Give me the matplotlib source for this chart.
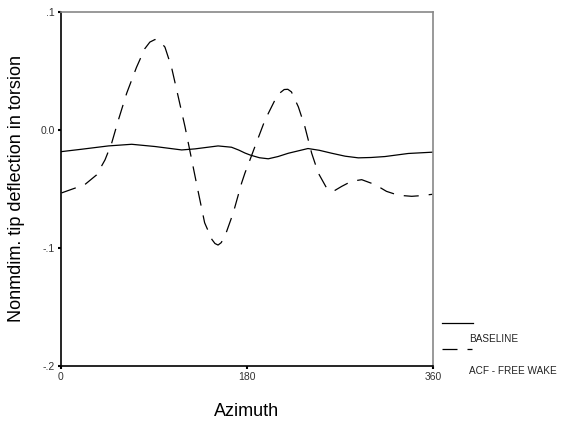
import numpy as np
import matplotlib
matplotlib.use("Agg")
import matplotlib.pyplot as plt
from matplotlib.lines import Line2D

plt.rcParams['font.family'] = ['Liberation Sans', 'DejaVu Sans']

# BASELINE (solid)
base_az = [0.6, 20, 45.8, 68.4, 91, 116.8, 129.7, 152, 165, 172, 178, 183, 192, 200.6,
           210, 220, 239, 250, 262, 275, 287.7, 300, 313.5, 336, 359.4]
base_val = [-0.0183, -0.0163, -0.0135, -0.0121, -0.0140, -0.0169, -0.0160, -0.0135,
            -0.0146, -0.0170, -0.0195, -0.0212, -0.0235, -0.0244, -0.0225, -0.0197,
            -0.0157, -0.0172, -0.0197, -0.0222, -0.0236, -0.0233, -0.0225, -0.0199,
            -0.0188]

# ACF - FREE WAKE (dashed)
acf_az = [0.6, 23, 34.5, 42.6, 49, 55.5, 63.5, 73, 81, 86, 91, 96, 100.6, 107, 113.5,
          120, 126.5, 133, 139, 146, 149, 152, 155, 158.7, 166.7, 174.8, 178, 183, 187.7,
          197.4, 207, 212, 216, 219.5, 223, 229.7, 236, 242.6, 249, 257, 263.5, 271.6,
          281, 291, 304, 315, 326.5, 339.4, 349, 359.4]
acf_val = [-0.0533, -0.0463, -0.0380, -0.0253, -0.0112, 0.0084, 0.0310, 0.0530, 0.0688,
           0.0745, 0.0767, 0.0750, 0.0702, 0.0530, 0.0280, 0.0028, -0.0253, -0.0533,
           -0.0786, -0.0927, -0.0962, -0.0975, -0.0955, -0.0899, -0.0702, -0.0449,
           -0.0365, -0.0250, -0.0140, 0.0084, 0.0253, 0.0315, 0.0343, 0.0345, 0.0323,
           0.0196, 0.0028, -0.0197, -0.0365, -0.0491, -0.0520, -0.0478, -0.0435,
           -0.0421, -0.0463, -0.0520, -0.0553, -0.0562, -0.0556, -0.0545]

xticks = [0, 180, 360]
yticks = [0.1, 0.0, -0.1, -0.2]
yticklabels = ['.1', '0.0', '-.1', '-.2']

W, H = 566, 426
fig = plt.figure(figsize=(W / 100, H / 100), dpi=100)
L, R, T, B = 61, 433, 12, 366
ax = fig.add_axes([L / W, 1 - B / H, (R - L) / W, (B - T) / H])

ax.plot(base_az, base_val, color='black', lw=0.9, solid_joinstyle='round')
ax.plot(acf_az, acf_val, color='black', lw=0.9, linestyle=(0, (12, 8)))

ax.set_xlim(0, 360)
ax.set_ylim(-0.2, 0.1)
ax.set_xticks(xticks)
ax.set_xticklabels([str(t) for t in xticks])
ax.set_yticks(yticks)
ax.set_yticklabels(yticklabels)
ax.tick_params(direction='out', length=2.5, width=1.5, color='black',
               labelsize=7.5, labelcolor='#333333', pad=2)

for s in ['left', 'bottom']:
    ax.spines[s].set_color('black')
    ax.spines[s].set_linewidth(1.2)
for s in ['top', 'right']:
    ax.spines[s].set_color('#888888')
    ax.spines[s].set_linewidth(1.2)

ax.set_ylabel('Nonmdim. tip deflection in torsion', fontsize=13)
ax.yaxis.set_label_coords(-(L - 17) / (R - L), 0.5)
ax.yaxis.label.set_va('center')
ax.set_xlabel('Azimuth', fontsize=13)
ax.xaxis.set_label_coords(0.5, -(412 - B) / (B - T))
ax.xaxis.label.set_va('center')

# legend drawn by hand, handle above label
def fx(px):
    return px / W

def fy(py):
    return 1 - py / H

fig.add_artist(Line2D([fx(442), fx(473)], [fy(323), fy(323)], color='black', lw=0.9))
fig.add_artist(Line2D([fx(442), fx(472)], [fy(349), fy(349)], color='black', lw=0.9,
                      linestyle=(0, (12, 8))))
fig.text(fx(469), fy(339), 'BASELINE', fontsize=7.2, va='center', ha='left', color='#222222')
fig.text(fx(469), fy(371), 'ACF - FREE WAKE', fontsize=7.2, va='center', ha='left', color='#222222')

fig.savefig('out.png', dpi=100)
